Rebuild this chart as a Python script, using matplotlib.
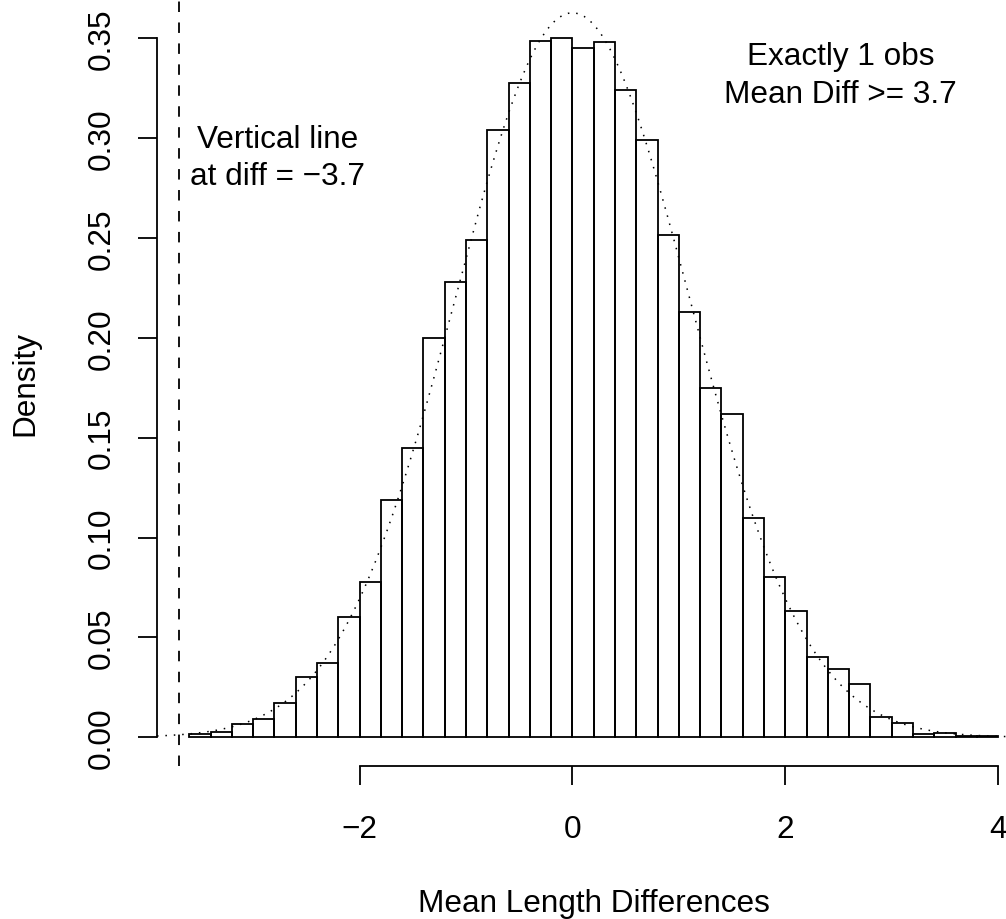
import numpy as np
import matplotlib
matplotlib.use("Agg")
import matplotlib.pyplot as plt

plt.rcParams['font.family'] = ['Liberation Sans', 'DejaVu Sans']

# histogram of mean length differences (density scale), bins of width 0.2
bin_left = [-3.6, -3.4, -3.2, -3.0, -2.8, -2.6, -2.4, -2.2, -2.0, -1.8,
            -1.6, -1.4, -1.2, -1.0, -0.8, -0.6, -0.4, -0.2, 0.0, 0.2,
            0.4, 0.6, 0.8, 1.0, 1.2, 1.4, 1.6, 1.8, 2.0, 2.2,
            2.4, 2.6, 2.8, 3.0, 3.2, 3.4, 3.6, 3.8]
density = [0.0018, 0.0028, 0.0065, 0.0092, 0.0172, 0.030, 0.037, 0.060, 0.078, 0.119,
           0.145, 0.200, 0.228, 0.249, 0.304, 0.3275, 0.3485, 0.350, 0.345, 0.348,
           0.324, 0.299, 0.2514, 0.213, 0.1747, 0.1617, 0.1096, 0.0802, 0.0632, 0.0402,
           0.034, 0.0267, 0.0102, 0.007, 0.0017, 0.0022, 0.0005, 0.0005]
bin_width = 0.2

# normal curve overlaid
norm_mean = 0.0
norm_sd = 1.1

observed = -3.7

xticks = [-2, 0, 2, 4]
xticklabels = ['\u22122', '0', '2', '4']
yticks = [0.00, 0.05, 0.10, 0.15, 0.20, 0.25, 0.30, 0.35]
yticklabels = ['0.00', '0.05', '0.10', '0.15', '0.20', '0.25', '0.30', '0.35']

W, H = 1006, 920
fig = plt.figure(figsize=(W / 100, H / 100), dpi=100)
# plot region (R style), right edge runs past the picture
left_px, right_px, top_px, bot_px = 157, 1030.5, 0.8, 766.7
ax = fig.add_axes([left_px / W, (H - bot_px) / H,
                   (right_px - left_px) / W, (bot_px - top_px) / H])
ax.set_xlim(-3.904, 4.304)
ax.set_ylim(-0.0142, 0.3692)

lw = 1.3
ax.bar(bin_left, density, width=bin_width, align='edge', fill=False,
       edgecolor='black', linewidth=lw)

xs = np.linspace(-3.904, 4.304, 600)
ys = np.exp(-0.5 * ((xs - norm_mean) / norm_sd) ** 2) / (norm_sd * np.sqrt(2 * np.pi))
ax.plot(xs, ys, color='black', linewidth=1.1, linestyle=(0, (1.0, 4.5)))

ax.axvline(observed, color='black', linewidth=lw, linestyle=(0, (5.8, 5.8)))

fs = 22.7
ax.text(-2.77, 0.2953, 'Vertical line', ha='center', va='baseline', fontsize=fs)
ax.text(-2.77, 0.2768, 'at diff = \u22123.7', ha='center', va='baseline', fontsize=fs)
ax.text(2.52, 0.3369, 'Exactly 1 obs', ha='center', va='baseline', fontsize=fs)
ax.text(2.52, 0.3180, 'Mean Diff >= 3.7', ha='center', va='baseline', fontsize=fs)

for s in ['top', 'right']:
    ax.spines[s].set_visible(False)
ax.spines['left'].set_bounds(0, 0.35)
ax.spines['bottom'].set_bounds(-2, 4)
ax.spines['left'].set_linewidth(lw)
ax.spines['bottom'].set_linewidth(lw)

ax.tick_params(axis='both', direction='out', length=13.7, width=lw, labelsize=fs)
ax.tick_params(axis='x', pad=37.3)
ax.tick_params(axis='y', pad=20.2)
ax.set_xticks(xticks, xticklabels, va='baseline')
ax.set_yticks(yticks, yticklabels, rotation=90, ha='center', va='baseline',
              rotation_mode='anchor')

ax.set_xlabel('Mean Length Differences', fontsize=fs, va='baseline')
ax.xaxis.set_label_coords(0.5, -(912 - bot_px) / (bot_px - top_px))
ax.set_ylabel('Density', fontsize=fs, va='baseline', ha='center',
              rotation_mode='anchor')
ax.yaxis.set_label_coords(-(left_px - 33) / (right_px - left_px), 0.5)

fig.savefig('out.png', dpi=100)
